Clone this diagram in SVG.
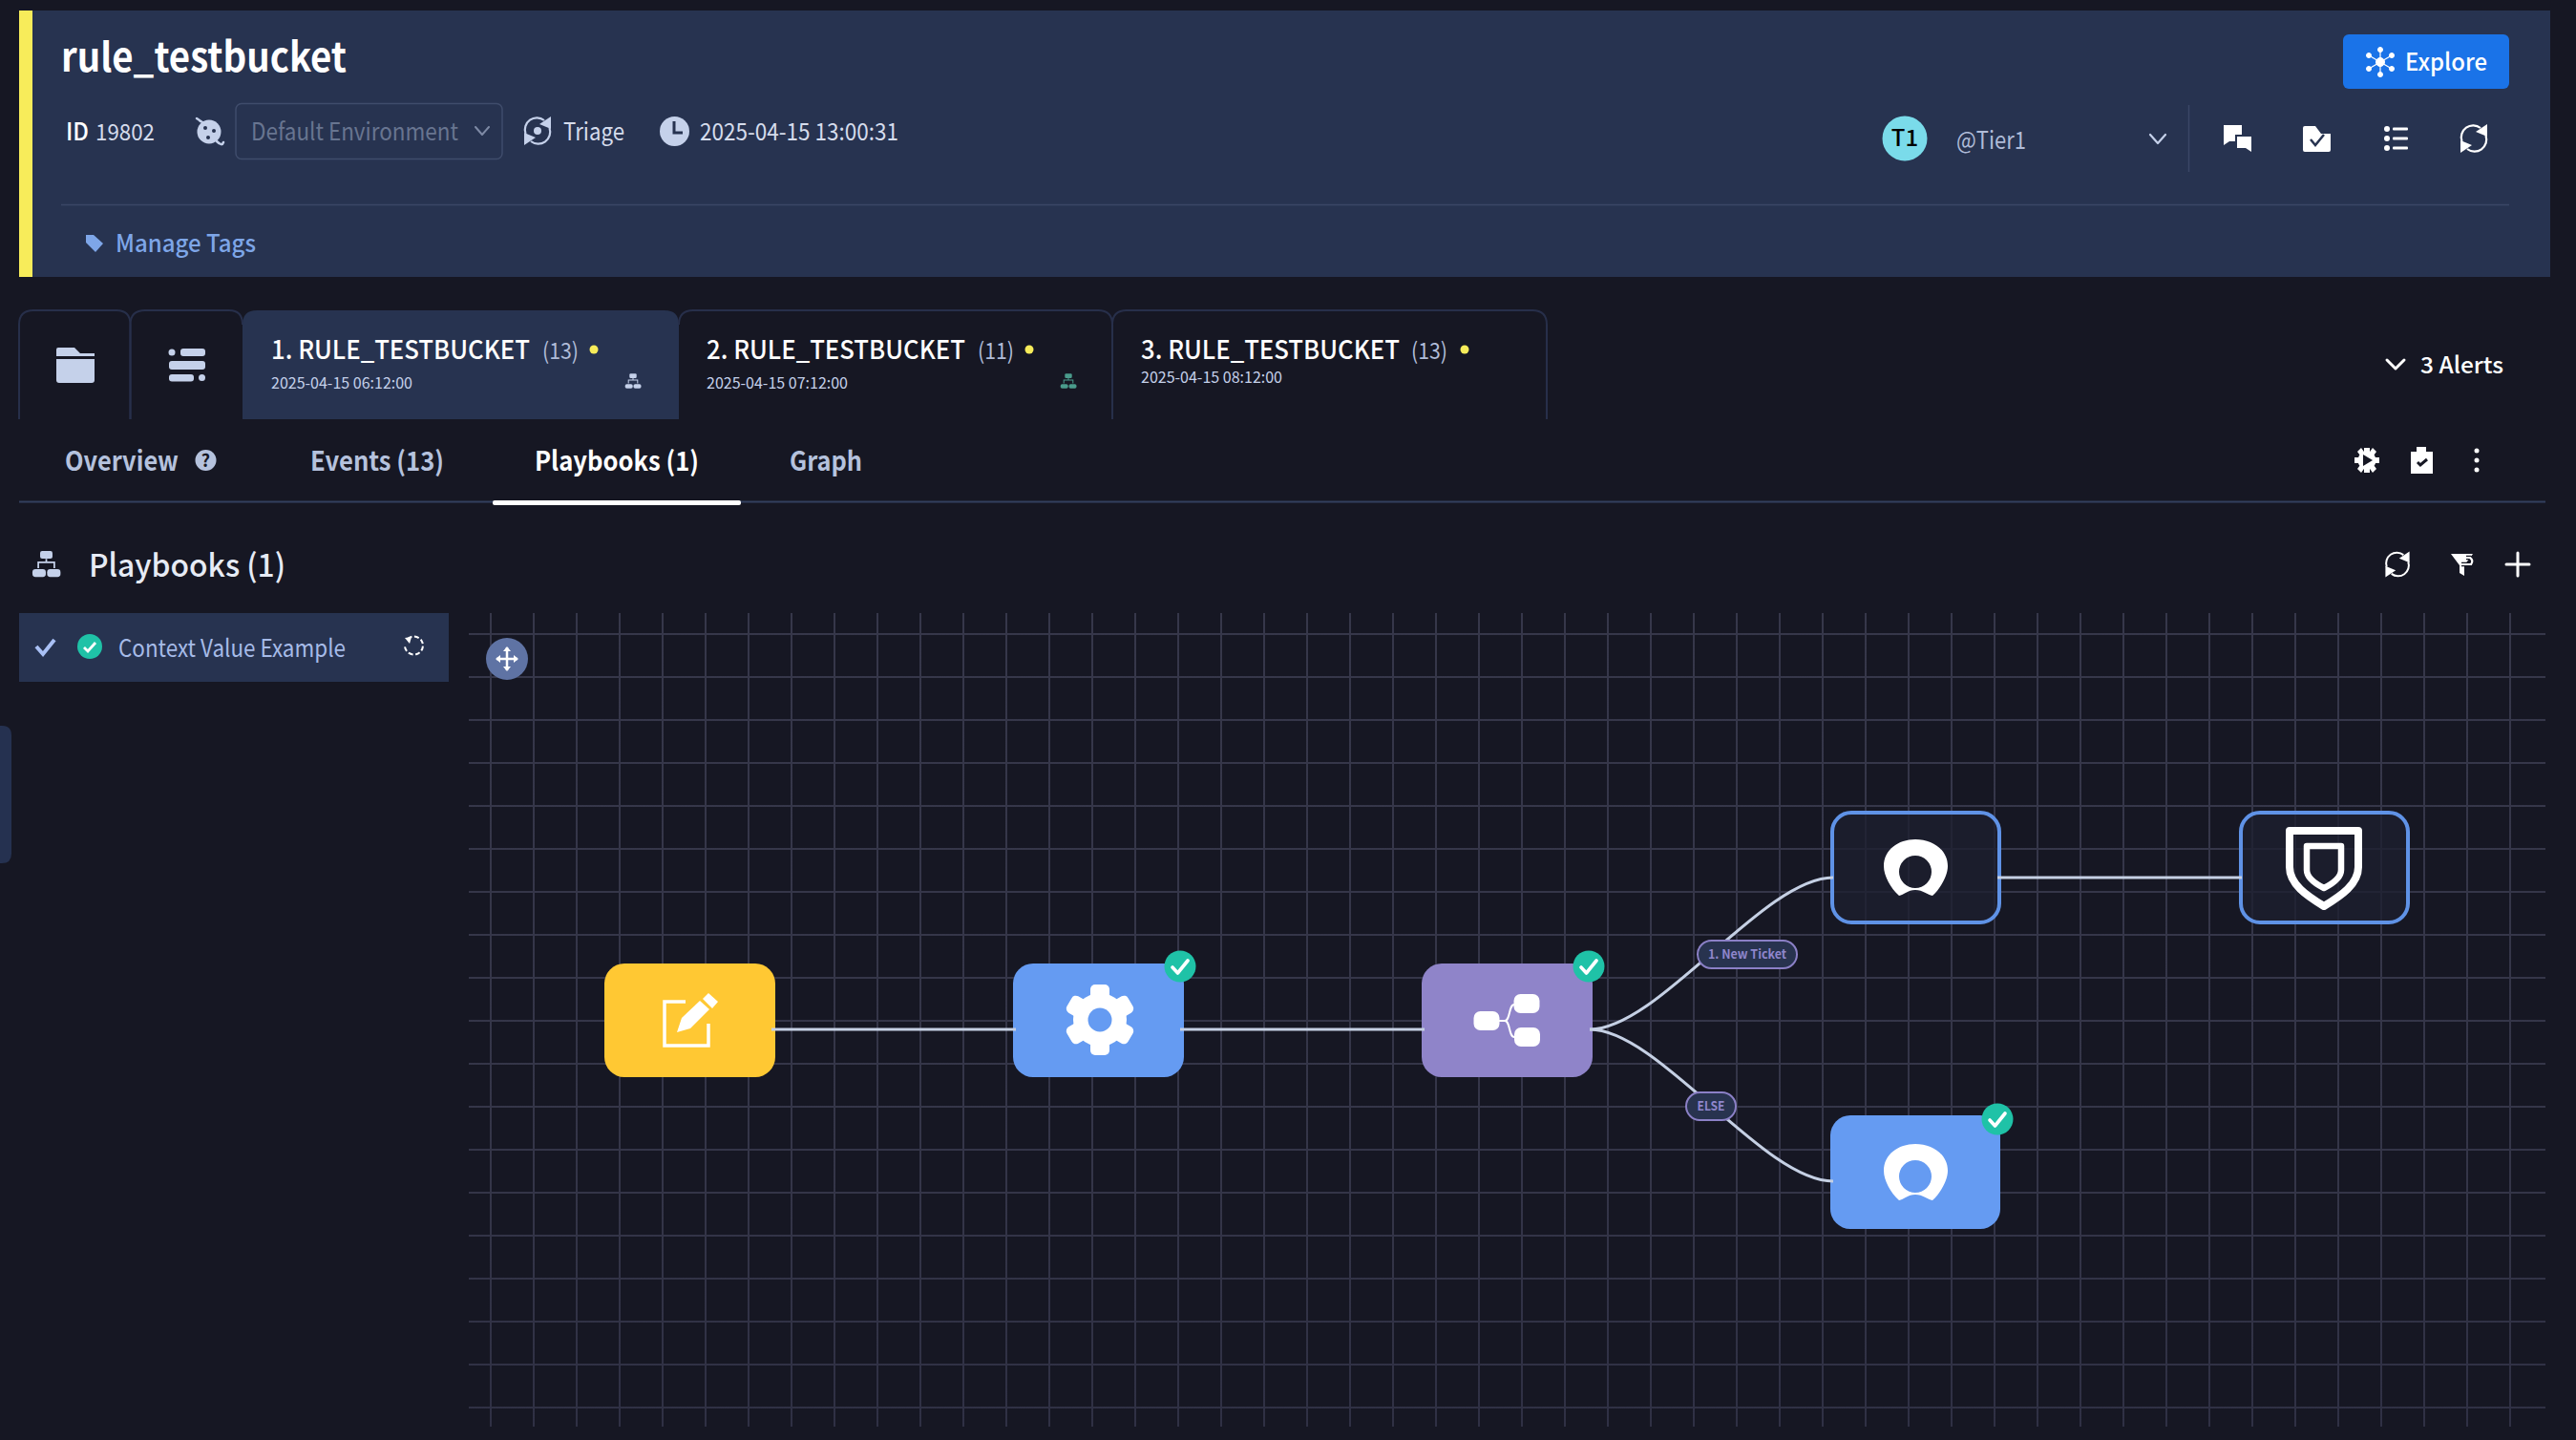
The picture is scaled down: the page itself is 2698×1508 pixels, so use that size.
<svg xmlns="http://www.w3.org/2000/svg" width="2698" height="1508" viewBox="0 0 2698 1508">
<style>
text{font-family:"Noto Sans CJK SC","Noto Sans",sans-serif;}
.b{font-weight:700}.m{font-weight:500}
.wh{fill:#fff}.lt{fill:#c5d1ea}
.tab{fill:none;stroke:#272f4a;stroke-width:2}
.grid{fill:none;stroke:url(#gridfade);stroke-width:2}
.conn{fill:none;stroke:#c5d0e4;stroke-width:3}
.node{stroke:none}
.outl{fill:#1e1f30;fill-opacity:.78;stroke:#5f92e6;stroke-width:4}
.pill{fill:#28334f;stroke:#8b80c6;stroke-width:2}
.pilltx{fill:#8f86cc;font-size:13px;font-weight:700;text-anchor:middle}
.tabt{fill:#fff;font-size:27px;font-weight:500}
.cnt{fill:#b0bcd8;font-size:24px}
.dat{fill:#c5d1ea;font-size:16px}
.nav{fill:#b5c2dd;font-size:28px;font-weight:700}
.dot{fill:#f7ec5a}
.sw{fill:none;stroke-linecap:round;stroke-linejoin:round}
</style>
<defs>
<linearGradient id="gridfade" gradientUnits="userSpaceOnUse" x1="0" y1="642" x2="0" y2="1494"><stop offset="0" stop-color="#36374a"/><stop offset=".7" stop-color="#343548"/><stop offset="1" stop-color="#2f3044"/></linearGradient>
<g id="refresh">
<path d="M-12.5 3A12.5 12.5 0 0 1 7 -11" fill="none" stroke="currentColor" stroke-width="2.200"/>
<path d="M12.5 -3A12.5 12.5 0 0 1 -7 11" fill="none" stroke="currentColor" stroke-width="2.200"/>
<path d="M14 -15V-2L2 -7Z M-14 15V2L-2 7Z" fill="currentColor"/>
</g>
<g id="org" fill="currentColor">
<rect x="-3.700" y="-7.700" width="7.400" height="4.600" rx="1.200"/>
<path d="M-.5 -3H.5V-1.500H5.300V2.500H4.300V-.5H-4.300V2.500H-5.300V-1.500H-.5Z"/>
<rect x="-8.300" y="3.200" width="8" height="4.600" rx="1.800"/>
<rect x="0.500" y="3.200" width="8" height="4.600" rx="1.800"/>
</g>
<g id="check"><circle r="16.500" fill="#1fc2a7"/><path d="M-8 1L-2.500 7L8 -6" fill="none" stroke="#fff" stroke-width="3.600" stroke-linecap="round" stroke-linejoin="round"/></g>
<path id="ring" fill="#fff" fill-rule="evenodd" d="M1989 938C1980 930 1973 917 1973 907C1973 890 1988 879 2006 879C2024 879 2040 890 2040 907C2040 917 2032 931 2024 938C2019 937 2014 932 2006 932C1998 932 1994 937 1989 938ZM2006 896A17 17 0 1 0 2006 930A17 17 0 1 0 2006 896Z"/>
</defs>
<rect width="2698" height="1508" fill="#161723"/>

<g id="header">
<rect x="20" y="11" width="2651" height="279" fill="#273350"/>
<rect x="20" y="11" width="14" height="279" fill="#f7ec5a"/>
<text x="64" y="75" class="b wh" font-size="42" textLength="299" lengthAdjust="spacingAndGlyphs">rule_testbucket</text>
<text x="69" y="147" class="m wh" font-size="25" textLength="24" lengthAdjust="spacingAndGlyphs">ID</text>
<text x="100" y="147" fill="#d5dcec" font-size="24" textLength="62" lengthAdjust="spacingAndGlyphs">19802</text>
<g id="env-icon"><circle cx="219" cy="138" r="12.500" class="lt"/><circle cx="215" cy="134" r="2" fill="#273350"/><circle cx="224" cy="137" r="2" fill="#273350"/><circle cx="218" cy="144" r="2" fill="#273350"/><path d="M206 124C212 128 208 126 212 128M227 148C231 152 233 152 234 149" class="sw" stroke="#c5d1ea" stroke-width="2.500"/></g>
<rect x="247" y="108.500" width="279" height="58" rx="6" fill="none" stroke="#3f4c6b" stroke-width="1.500"/>
<text x="263" y="147" fill="#687590" font-size="25" textLength="217" lengthAdjust="spacingAndGlyphs">Default Environment</text>
<path d="M498 133L505 141L512 133" class="sw" stroke="#7e8aa5" stroke-width="2"/>
<use href="#refresh" x="563" y="137" color="#c5d1ea"/><circle cx="563" cy="137" r="4" class="lt"/>
<text x="590" y="147" fill="#d5dcec" font-size="25" textLength="64" lengthAdjust="spacingAndGlyphs">Triage</text>
<circle cx="706.500" cy="137.500" r="15.500" class="lt"/><path d="M706 127V139H715" fill="none" stroke="#273350" stroke-width="3"/>
<text x="733" y="147" fill="#d5dcec" font-size="25" textLength="208" lengthAdjust="spacingAndGlyphs">2025-04-15 13:00:31</text>
<path d="M64 214.500H2628" stroke="#3b4766" stroke-width="1.500"/>
<path d="M90 246H98L108 255L100 264L90 254Z" fill="#7ea6e8"/>
<text x="121" y="263.500" class="m" fill="#7ea6e8" font-size="25" textLength="147" lengthAdjust="spacingAndGlyphs">Manage Tags</text>

<rect x="2454" y="36" width="174" height="57" rx="6" fill="#1a73e8"/>
<g id="explore-icon" fill="#fff" stroke="#fff"><path d="M2493 51V79M2481 58L2505 72M2505 58L2481 72" stroke-width="1.200"/><circle cx="2493" cy="65" r="4.500"/><circle cx="2493" cy="52" r="2.500"/><circle cx="2493" cy="78" r="2.500"/><circle cx="2481" cy="58" r="2.500"/><circle cx="2505" cy="58" r="2.500"/><circle cx="2481" cy="72" r="2.500"/><circle cx="2505" cy="72" r="2.500"/></g>
<text x="2519" y="74" class="m wh" font-size="25" textLength="86" lengthAdjust="spacingAndGlyphs">Explore</text>
<circle cx="1995" cy="145" r="23.500" fill="#7adbea"/>
<text x="1995" y="153" class="m" font-size="24" text-anchor="middle" fill="#000">T1</text>
<text x="2049" y="155.500" fill="#b0bcd8" font-size="25" textLength="73" lengthAdjust="spacingAndGlyphs">@Tier1</text>
<path d="M2252 141L2260 150L2268 141" class="sw" stroke="#c5d1ea" stroke-width="2.200"/>
<path d="M2292.500 110V180" stroke="#3b4766" stroke-width="1.500"/>
<g id="chat-icon" fill="#fff"><path d="M2329 131H2348V141H2341V148H2335L2329 152Z"/><path d="M2343 143H2358V159L2352 155H2343Z"/></g>
<g id="task-icon"><path d="M2412 134Q2412 132 2414 132H2425L2431 140H2441V157Q2441 159 2439 159H2414Q2412 159 2412 157Z" fill="#fff"/><path d="M2420 146L2425 152L2434 141" fill="none" stroke="#273350" stroke-width="2.500"/></g>
<g id="list-icon" fill="#fff"><circle cx="2500" cy="135" r="3"/><circle cx="2500" cy="145" r="3"/><circle cx="2500" cy="155" r="3"/><rect x="2506" y="133.500" width="16" height="3" rx="1"/><rect x="2506" y="143.500" width="16" height="3" rx="1"/><rect x="2506" y="153.500" width="16" height="3" rx="1"/></g>
<use href="#refresh" x="2591" y="145" color="#fff"/>
</g>

<g id="tabs">
<path class="tab" d="M20 439V340Q20 325 35 325H122Q136.500 325 136.500 340V439"/>
<path class="tab" d="M136.500 439V340Q136.500 325 152 325H240Q254 325 254 340"/>
<path d="M254 439V340Q254 325 269 325H696Q711 325 711 340V439Z" fill="#273350"/>
<path class="tab" d="M711 340Q711 325 726 325H1150Q1165 325 1165 340V439"/>
<path class="tab" d="M1165 340Q1165 325 1180 325H1605Q1620 325 1620 340V439"/>
<path d="M59 366Q59 364 61 364H78L84 370H99V373H59Z" class="lt"/><path d="M59 376H99V398Q99 401 96 401H62Q59 401 59 398Z" class="lt"/>
<g class="lt"><circle cx="180" cy="369" r="3.500"/><rect x="189" y="365" width="26" height="8" rx="3"/><rect x="177" y="378" width="38" height="9" rx="3"/><rect x="177" y="392" width="26" height="7.500" rx="3"/><circle cx="211.500" cy="395.500" r="3.500"/></g>
<text x="284" y="376" class="tabt" textLength="271" lengthAdjust="spacingAndGlyphs">1. RULE_TESTBUCKET</text><text x="568" y="376" class="cnt" textLength="38" lengthAdjust="spacingAndGlyphs">(13)</text><circle cx="622" cy="366" r="4.500" class="dot"/>
<text x="284" y="407" class="dat" textLength="148" lengthAdjust="spacingAndGlyphs">2025-04-15 06:12:00</text><use href="#org" x="663" y="399" color="#c5d1ea"/>
<text x="740" y="376" class="tabt" textLength="271" lengthAdjust="spacingAndGlyphs">2. RULE_TESTBUCKET</text><text x="1024" y="376" class="cnt" textLength="38" lengthAdjust="spacingAndGlyphs">(11)</text><circle cx="1078" cy="366" r="4.500" class="dot"/>
<text x="740" y="407" class="dat" textLength="148" lengthAdjust="spacingAndGlyphs">2025-04-15 07:12:00</text><use href="#org" x="1119" y="399" color="#4a9c8c"/>
<text x="1195" y="376" class="tabt" textLength="271" lengthAdjust="spacingAndGlyphs">3. RULE_TESTBUCKET</text><text x="1478" y="376" class="cnt" textLength="38" lengthAdjust="spacingAndGlyphs">(13)</text><circle cx="1534" cy="366" r="4.500" class="dot"/>
<text x="1195" y="401" class="dat" textLength="148" lengthAdjust="spacingAndGlyphs">2025-04-15 08:12:00</text>
<path d="M2500 377L2509 386L2518 377" class="sw" stroke="#fff" stroke-width="3"/>
<text x="2535" y="391" class="m wh" font-size="24" textLength="87" lengthAdjust="spacingAndGlyphs">3 Alerts</text>
</g>

<g id="nav">
<text x="68" y="492.500" class="nav" textLength="119" lengthAdjust="spacingAndGlyphs">Overview</text>
<circle cx="215.500" cy="482" r="11" fill="#b5c2dd"/><text x="215.500" y="489" font-size="18" class="b" text-anchor="middle" fill="#161723">?</text>
<text x="325" y="492.500" class="nav" textLength="140" lengthAdjust="spacingAndGlyphs">Events (13)</text>
<text x="560" y="492.500" class="nav" style="fill:#fff" textLength="172" lengthAdjust="spacingAndGlyphs">Playbooks (1)</text>
<text x="827" y="492.500" class="nav" textLength="76" lengthAdjust="spacingAndGlyphs">Graph</text>
<path d="M20 525.500H2666" stroke="#33405f" stroke-width="2"/>
<rect x="516" y="524" width="260" height="5" rx="2" fill="#fff"/>
<g id="gear-play" fill="#fff"><circle cx="2479" cy="482" r="9.500"/><path d="M2476 469H2482V482H2476ZM2476 482H2482V495H2476ZM2466 479H2492V485H2466Z"/><path d="M2469 473L2473 469L2489 491L2485 495ZM2489 473L2485 469L2469 491L2473 495Z"/><path d="M2475 476V488L2485 482Z" fill="#161723"/></g>
<g id="clip-icon"><path d="M2525 473H2531V468H2541V473H2548V496H2525Z" fill="#fff"/><path d="M2532 484L2535 487L2542 481" fill="none" stroke="#161723" stroke-width="3"/></g>
<circle cx="2594" cy="472" r="2.500" fill="#fff"/><circle cx="2594" cy="482" r="2.500" fill="#fff"/><circle cx="2594" cy="492" r="2.500" fill="#fff"/>
</g>

<g id="playbooks-head">
<use href="#org" transform="translate(48.500 590.500) scale(1.75)" color="#c5d1ea"/>
<text x="93" y="603.500" fill="#e6ebf5" font-size="33" class="m" textLength="206" lengthAdjust="spacingAndGlyphs">Playbooks (1)</text>
<use href="#refresh" transform="translate(2511 591) scale(.9)" color="#fff"/>
<g id="filter-icon"><path d="M2567 580H2590L2581 592V603L2576 600V592Z" fill="#fff"/><path d="M2578 591H2589M2583 584H2587Q2591 587 2588 591" fill="none" stroke="#161723" stroke-width="4.500"/><path d="M2578 591H2589M2583 584H2587Q2591 587 2588 591" fill="none" stroke="#fff" stroke-width="2.200"/></g>
<path d="M2625 591H2649M2637 579V603" stroke="#fff" stroke-width="3" stroke-linecap="round"/>
</g>

<g id="sidebar">
<rect x="20" y="642" width="450" height="72" fill="#273350"/>
<path d="M38 677L45 685L57 670" fill="none" stroke="#a9c0f5" stroke-width="4"/>
<circle cx="94" cy="677" r="13" fill="#1fc2a7"/><path d="M88 678L92 682L100 673" fill="none" stroke="#fff" stroke-width="2.800"/>
<text x="124" y="687.500" fill="#a6bbe8" font-size="25" textLength="238" lengthAdjust="spacingAndGlyphs">Context Value Example</text>
<path d="M427 669A9.500 9.500 0 1 1 424 677" fill="none" stroke="#fff" stroke-width="2" stroke-dasharray="5 2.500"/><path d="M424 668L431 667L429 674Z" fill="#fff"/>
<path d="M0 760H2Q12 760 12 770V894Q12 904 2 904H0Z" fill="#253150"/>
</g>

<g id="canvas">
<path class="grid" d="M491 664H2666M491 709H2666M491 754H2666M491 799H2666M491 844H2666M491 889H2666M491 934H2666M491 979H2666M491 1024H2666M491 1069H2666M491 1114H2666M491 1159H2666M491 1204H2666M491 1249H2666M491 1294H2666M491 1339H2666M491 1384H2666M491 1429H2666M491 1474H2666"/>
<path class="grid" d="M514 642V1494M559 642V1494M604 642V1494M649 642V1494M694 642V1494M739 642V1494M784 642V1494M829 642V1494M874 642V1494M919 642V1494M964 642V1494M1009 642V1494M1054 642V1494M1099 642V1494M1144 642V1494M1189 642V1494M1234 642V1494M1279 642V1494M1324 642V1494M1369 642V1494M1414 642V1494M1459 642V1494M1504 642V1494M1549 642V1494M1594 642V1494M1639 642V1494M1684 642V1494M1729 642V1494M1774 642V1494M1819 642V1494M1864 642V1494M1909 642V1494M1954 642V1494M1999 642V1494M2044 642V1494M2089 642V1494M2134 642V1494M2179 642V1494M2224 642V1494M2269 642V1494M2314 642V1494M2359 642V1494M2404 642V1494M2449 642V1494M2494 642V1494M2539 642V1494M2584 642V1494M2629 642V1494"/>
<g id="move-btn"><circle cx="531" cy="690" r="22" fill="#5f73a4"/><path d="M531 678V702M520 690H542" stroke="#fff" stroke-width="2.500"/><path d="M531 677L535 682H527ZM531 703L535 698H527ZM519 690L524 686V694ZM543 690L538 686V694Z" fill="#fff"/></g>
</g>

<g id="node-start">
<rect class="node" x="633" y="1009" width="179" height="119" rx="21" fill="#ffc833"/>
<path d="M718 1049H696V1095H742V1072" fill="none" stroke="#fff" stroke-width="3.500"/>
<path d="M709 1081L714 1066L733 1048L743 1057L723 1077Z" fill="#fff"/><path d="M742 1040L752 1049L746 1056L736 1046Z" fill="#fff"/>
</g>
<g id="node-action">
<rect class="node" x="1061" y="1009" width="179" height="119" rx="21" fill="#659bf2"/>
<g fill="#fff"><circle cx="1152" cy="1068" r="28"/><rect x="1142" y="1031" width="20" height="74" rx="5"/><rect x="1142" y="1031" width="20" height="74" rx="5" transform="rotate(60 1152 1068)"/><rect x="1142" y="1031" width="20" height="74" rx="5" transform="rotate(120 1152 1068)"/></g>
<circle cx="1152" cy="1068" r="12.500" fill="#659bf2"/>
<use href="#check" x="1236" y="1012"/>
</g>
<g id="node-decision">
<rect class="node" x="1489" y="1009" width="179" height="119" rx="21" fill="#8f84c9"/>
<path d="M1570 1069H1576C1582 1069 1580 1052 1586 1052M1576 1069C1582 1069 1580 1086 1586 1086" fill="none" stroke="#fff" stroke-width="2"/>
<rect x="1543.500" y="1059" width="27" height="20" rx="7" fill="#fff"/><rect x="1585.500" y="1041" width="27" height="20" rx="7" fill="#fff"/><rect x="1586" y="1076" width="27" height="20" rx="7" fill="#fff"/>
<use href="#check" x="1664" y="1012"/>
</g>
<g id="node-ticket-top">
<rect class="outl" x="1919" y="851" width="175" height="115" rx="20"/>
<use href="#ring"/>
</g>
<g id="node-shield">
<rect class="outl" x="2347" y="851" width="175" height="115" rx="20"/>
<path d="M2398 870H2470V908C2470 926 2452 938 2434 949C2416 938 2398 926 2398 908Z" fill="none" stroke="#fff" stroke-width="8" stroke-linejoin="round"/>
<path d="M2416 886H2452V911C2452 919 2444 925 2434 930C2424 925 2416 919 2416 911Z" fill="none" stroke="#fff" stroke-width="6.500" stroke-linejoin="round"/>
</g>
<g id="node-ticket-bottom">
<rect class="node" x="1917" y="1168" width="178" height="119" rx="21" fill="#659bf2"/>
<use href="#ring" y="319"/>
<use href="#check" x="2092" y="1172"/>
</g>

<g id="connectors">
<path class="conn" d="M808 1078H1064"/>
<path class="conn" d="M1236 1078H1492"/>
<path class="conn" d="M1665 1078C1737 1078 1847 919 1920 919"/>
<path class="conn" d="M1665 1078C1737 1078 1847 1237 1920 1237"/>
<path class="conn" d="M2092 919H2348"/>
<rect class="pill" x="1778" y="985" width="104" height="29" rx="14.500"/><text class="pilltx" x="1830" y="1004" textLength="82" lengthAdjust="spacingAndGlyphs">1. New Ticket</text>
<rect class="pill" x="1766" y="1144" width="52" height="29" rx="14.500"/><text class="pilltx" x="1792" y="1163" textLength="29" lengthAdjust="spacingAndGlyphs">ELSE</text>
</g>
</svg>
